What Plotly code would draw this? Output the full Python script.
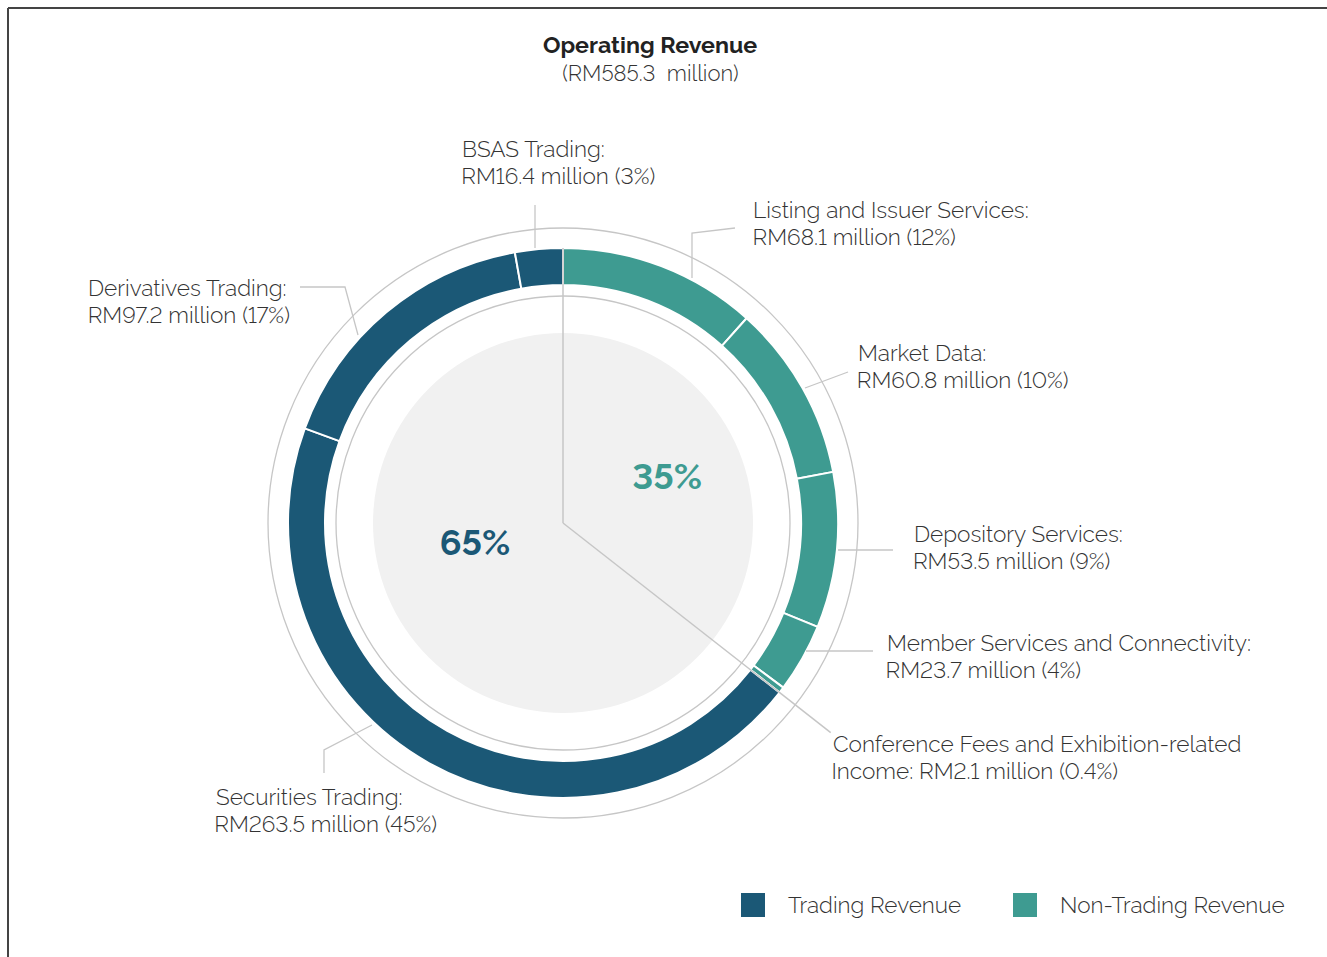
import math
import plotly.graph_objects as go

# Operating revenue breakdown (RM million), clockwise from 12 o'clock
segments = [
    "Listing and Issuer Services",
    "Market Data",
    "Depository Services",
    "Member Services and Connectivity",
    "Conference Fees and Exhibition-related Income",
    "Securities Trading",
    "Derivatives Trading",
    "BSAS Trading",
]
revenue = [68.1, 60.8, 53.5, 23.7, 2.1, 263.5, 97.2, 16.4]
group = ["Non-Trading", "Non-Trading", "Non-Trading", "Non-Trading", "Non-Trading",
         "Trading", "Trading", "Trading"]
label_lines = [
    ("Listing and Issuer Services:", "RM68.1 million (12%)"),
    ("Market Data:", "RM60.8 million (10%)"),
    ("Depository Services:", "RM53.5 million (9%)"),
    ("Member Services and Connectivity:", "RM23.7 million (4%)"),
    ("Conference Fees and Exhibition-related", "Income: RM2.1 million (0.4%)"),
    ("Securities Trading:", "RM263.5 million (45%)"),
    ("Derivatives Trading:", "RM97.2 million (17%)"),
    ("BSAS Trading:", "RM16.4 million (3%)"),
]
group_share = {"Trading": "65%", "Non-Trading": "35%"}
title_text = "Operating Revenue"
subtitle_text = "(RM585.3  million)"

W, H = 1327, 957
CX, CY = 563, 523
R_OUT, R_IN = 275, 238
R_RING_OUTER_GUIDE = 295
R_RING_INNER_GUIDE = 227
R_CORE = 190

DARK = "#1B5876"
TEAL = "#3E9B91"
GUIDE = "#C6C6C6"
TEXT = "#333333"
FONT = "Raleway, Lato, 'Open Sans', sans-serif"

colors = [TEAL if g == "Non-Trading" else DARK for g in group]
total = sum(revenue)

fig = go.Figure()

# invisible cartesian trace so the pixel-space axes exist for shapes
fig.add_trace(go.Scatter(x=[0, W], y=[0, H], mode="markers",
                         marker=dict(opacity=0), hoverinfo="skip", showlegend=False))

fig.add_trace(go.Pie(
    labels=segments, values=revenue, sort=False, direction="clockwise", rotation=0,
    hole=R_IN / R_OUT, textinfo="none", hoverinfo="label+value",
    marker=dict(colors=colors, line=dict(color="white", width=2)),
    domain=dict(x=[(CX - R_OUT) / W, (CX + R_OUT) / W],
                y=[(H - CY - R_OUT) / H, (H - CY + R_OUT) / H]),
    showlegend=False,
))

shapes = []


def circle(r, **kw):
    return dict(type="circle", xref="x", yref="y",
                x0=CX - r, x1=CX + r, y0=CY - r, y1=CY + r, **kw)


shapes.append(circle(R_CORE, fillcolor="#F1F1F1", line=dict(width=0), layer="below"))
shapes.append(circle(R_RING_INNER_GUIDE, line=dict(color=GUIDE, width=1.3), layer="below"))
shapes.append(circle(R_RING_OUTER_GUIDE, line=dict(color=GUIDE, width=1.3), layer="below"))


def polar(angle_deg, r):
    a = math.radians(angle_deg)
    return CX + r * math.sin(a), CY - r * math.cos(a)


# split lines from the centre: start of the ring and end of non-trading share
non_trading_total = sum(v for v, g in zip(revenue, group) if g == "Non-Trading")
split_angle = non_trading_total / total * 360
x1, y1 = polar(0, R_OUT)
shapes.append(dict(type="line", xref="x", yref="y", x0=CX, y0=CY, x1=x1, y1=y1,
                   line=dict(color=GUIDE, width=1.5)))
x1, y1 = polar(split_angle, 340)
shapes.append(dict(type="line", xref="x", yref="y", x0=CX, y0=CY, x1=x1, y1=y1,
                   line=dict(color=GUIDE, width=1.5)))

# leader lines (pixel space) and label anchors
leaders = [
    [(692, 278), (692, 233), (735, 228)],
    [(805, 388), (848, 372)],
    [(838, 550), (893, 550)],
    [(806, 651), (873, 651)],
    [],
    [(372, 725), (324, 750), (324, 773)],
    [(300, 287), (345, 287), (358, 335)],
    [(535, 205), (535, 248)],
]
label_pos = [(751, 210), (856, 353), (912, 534), (885, 643), (831, 744),
             (214, 797), (86, 288), (460, 149)]

for pts in leaders:
    if len(pts) < 2:
        continue
    path = "M " + " L ".join(f"{x},{y}" for x, y in pts)
    shapes.append(dict(type="path", xref="x", yref="y", path=path,
                       line=dict(color=GUIDE, width=1.3)))

annotations = []
for (l1, l2), (lx, ly) in zip(label_lines, label_pos):
    for i, line in enumerate((l1, l2)):
        annotations.append(dict(x=lx, y=ly + i * 27, xref="x", yref="y", text=line,
                                showarrow=False, xanchor="left", yanchor="middle",
                                font=dict(family=FONT, size=22.6, color=TEXT, weight=300)))

# group shares inside the core
annotations.append(dict(x=475, y=542, xref="x", yref="y", text=group_share["Trading"],
                        showarrow=False, font=dict(family=FONT, size=36, color=DARK, weight="bold")))
annotations.append(dict(x=667, y=476, xref="x", yref="y", text=group_share["Non-Trading"],
                        showarrow=False, font=dict(family=FONT, size=36, color=TEAL, weight="bold")))

# title
annotations.append(dict(x=650, y=44, xref="x", yref="y", text=title_text, showarrow=False,
                        font=dict(family=FONT, size=23.2, color="#222222", weight="bold")))
annotations.append(dict(x=650, y=73, xref="x", yref="y", text=subtitle_text, showarrow=False,
                        font=dict(family=FONT, size=22, color=TEXT, weight=300)))

# legend
legend_items = [("Trading Revenue", DARK, 741), ("Non-Trading Revenue", TEAL, 1013)]
for name, col, lx in legend_items:
    shapes.append(dict(type="rect", xref="x", yref="y", x0=lx, x1=lx + 24, y0=893, y1=917,
                       fillcolor=col, line=dict(width=0)))
    annotations.append(dict(x=lx + 45, y=905, xref="x", yref="y", text=name, showarrow=False,
                            xanchor="left", yanchor="middle",
                            font=dict(family=FONT, size=22.5, color=TEXT, weight=300)))

# frame lines along top and left edge
shapes.append(dict(type="line", xref="x", yref="y", x0=8, y0=8, x1=W, y1=8,
                   line=dict(color="#444444", width=2)))
shapes.append(dict(type="line", xref="x", yref="y", x0=8, y0=8, x1=8, y1=H,
                   line=dict(color="#444444", width=2)))

fig.update_layout(
    width=W, height=H, margin=dict(l=0, r=0, t=0, b=0),
    paper_bgcolor="white", plot_bgcolor="white",
    xaxis=dict(range=[0, W], visible=False, fixedrange=True),
    yaxis=dict(range=[H, 0], visible=False, fixedrange=True),
    shapes=shapes, annotations=annotations, showlegend=False,
)

# use lining figures for all chart text
lining_css = (
    "var s=document.createElement('style');"
    "s.textContent='.main-svg text{font-variant-numeric:lining-nums !important;"
    "font-feature-settings:\"lnum\" 1 !important;}';"
    "document.head.appendChild(s);"
)
fig.write_html("out.html", post_script=lining_css)
